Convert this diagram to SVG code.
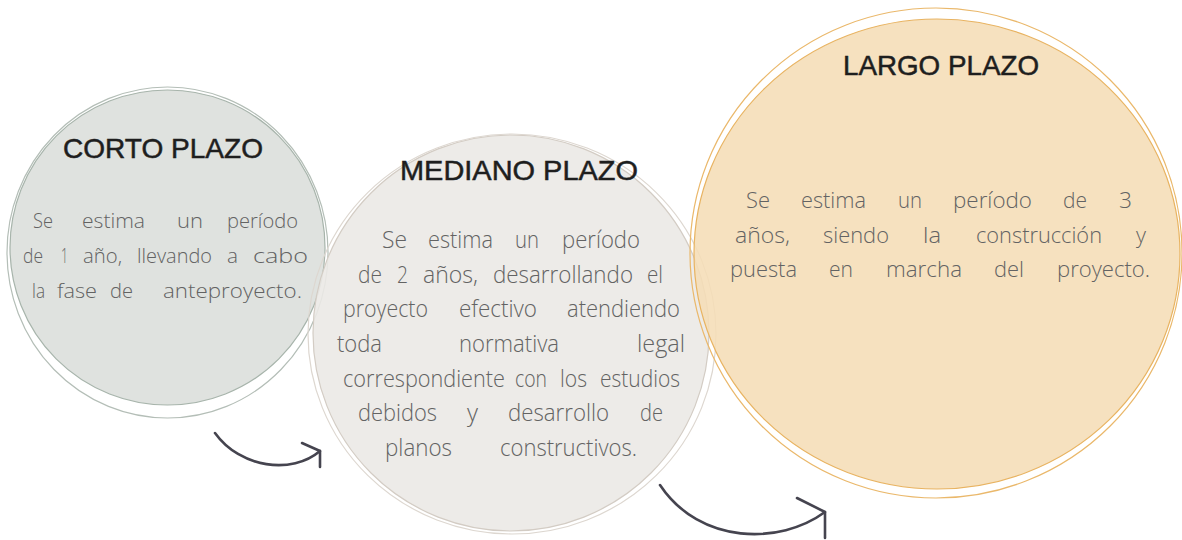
<svg xmlns="http://www.w3.org/2000/svg" width="1182" height="540" viewBox="0 0 1182 540">
<style>
.title{font-family:"Liberation Sans",Arial,sans-serif;font-size:28px;fill:#1e1e1e;stroke:#1e1e1e;stroke-width:0.5}
.body{font-family:"Open Sans","DejaVu Sans",sans-serif;font-weight:300;font-size:22px;fill:#636363}
.s{font-size:21px}
.m{font-size:23px}
.conn{fill:none;stroke:#45444f;stroke-width:2.6;stroke-linecap:round;stroke-linejoin:round}
</style>
<rect width="1182" height="540" fill="#fff"/>
<g id="corto">
<circle cx="167.5" cy="247.5" r="157.5" fill="#dce0dc" fill-opacity="0.92" stroke="#a7b4ab" stroke-width="1.2"/>
<ellipse cx="167.5" cy="252.5" rx="160.5" ry="165.5" fill="none" stroke="#b4beb7" stroke-width="1.2"/>
<text class="title" x="63" y="158" textLength="200" lengthAdjust="spacingAndGlyphs">CORTO PLAZO</text>
<text class="body s" y="228" lengthAdjust="spacingAndGlyphs"><tspan x="33" textLength="20" lengthAdjust="spacingAndGlyphs">Se</tspan><tspan x="82" textLength="63" lengthAdjust="spacingAndGlyphs">estima</tspan><tspan x="177" textLength="26" lengthAdjust="spacingAndGlyphs">un</tspan><tspan x="227" textLength="71" lengthAdjust="spacingAndGlyphs">período</tspan></text>
<text class="body s" y="263"><tspan x="23" textLength="20" lengthAdjust="spacingAndGlyphs">de</tspan><tspan x="61" textLength="7" lengthAdjust="spacingAndGlyphs">1</tspan><tspan x="83" textLength="39" lengthAdjust="spacingAndGlyphs">año,</tspan><tspan x="137" textLength="75" lengthAdjust="spacingAndGlyphs">llevando</tspan><tspan x="227" textLength="11" lengthAdjust="spacingAndGlyphs">a</tspan><tspan x="253" textLength="55" lengthAdjust="spacingAndGlyphs">cabo</tspan></text>
<text class="body s" y="298"><tspan x="32" textLength="13" lengthAdjust="spacingAndGlyphs">la</tspan><tspan x="57" textLength="40" lengthAdjust="spacingAndGlyphs">fase</tspan><tspan x="110" textLength="23" lengthAdjust="spacingAndGlyphs">de</tspan><tspan x="163" textLength="139" lengthAdjust="spacingAndGlyphs">anteproyecto.</tspan></text>
</g>
<g id="mediano">
<circle cx="511" cy="333" r="198" fill="#ebe9e5" fill-opacity="0.9" stroke="#d3ccc4" stroke-width="1.2"/>
<ellipse cx="512" cy="334" rx="204" ry="200" fill="none" stroke="#ddd7d0" stroke-width="1.2"/>
<text class="title" x="400" y="180" textLength="238" lengthAdjust="spacingAndGlyphs">MEDIANO PLAZO</text>
<text class="body m" y="248"><tspan x="382" textLength="25" lengthAdjust="spacingAndGlyphs">Se</tspan><tspan x="428" textLength="65" lengthAdjust="spacingAndGlyphs">estima</tspan><tspan x="515" textLength="24" lengthAdjust="spacingAndGlyphs">un</tspan><tspan x="562" textLength="78" lengthAdjust="spacingAndGlyphs">período</tspan></text>
<text class="body m" y="283"><tspan x="358" textLength="24" lengthAdjust="spacingAndGlyphs">de</tspan><tspan x="397" textLength="11" lengthAdjust="spacingAndGlyphs">2</tspan><tspan x="423" textLength="55" lengthAdjust="spacingAndGlyphs">años,</tspan><tspan x="493" textLength="140" lengthAdjust="spacingAndGlyphs">desarrollando</tspan><tspan x="647" textLength="16" lengthAdjust="spacingAndGlyphs">el</tspan></text>
<text class="body m" y="317"><tspan x="343" textLength="85" lengthAdjust="spacingAndGlyphs">proyecto</tspan><tspan x="459" textLength="78" lengthAdjust="spacingAndGlyphs">efectivo</tspan><tspan x="567" textLength="113" lengthAdjust="spacingAndGlyphs">atendiendo</tspan></text>
<text class="body m" y="352"><tspan x="337" textLength="45" lengthAdjust="spacingAndGlyphs">toda</tspan><tspan x="459" textLength="100" lengthAdjust="spacingAndGlyphs">normativa</tspan><tspan x="637" textLength="48" lengthAdjust="spacingAndGlyphs">legal</tspan></text>
<text class="body m" y="387"><tspan x="343" textLength="162" lengthAdjust="spacingAndGlyphs">correspondiente</tspan><tspan x="515" textLength="32" lengthAdjust="spacingAndGlyphs">con</tspan><tspan x="560" textLength="27" lengthAdjust="spacingAndGlyphs">los</tspan><tspan x="600" textLength="80" lengthAdjust="spacingAndGlyphs">estudios</tspan></text>
<text class="body m" y="421"><tspan x="358" textLength="79" lengthAdjust="spacingAndGlyphs">debidos</tspan><tspan x="467" textLength="11" lengthAdjust="spacingAndGlyphs">y</tspan><tspan x="508" textLength="101" lengthAdjust="spacingAndGlyphs">desarrollo</tspan><tspan x="640" textLength="23" lengthAdjust="spacingAndGlyphs">de</tspan></text>
<text class="body m" y="456"><tspan x="385" textLength="67" lengthAdjust="spacingAndGlyphs">planos</tspan><tspan x="500" textLength="137" lengthAdjust="spacingAndGlyphs">constructivos.</tspan></text>
</g>
<g id="largo">
<ellipse cx="937" cy="254" rx="243" ry="235" fill="#f5ddb6" fill-opacity="0.88" stroke="#e8b361" stroke-width="1.2"/>
<ellipse cx="936" cy="253" rx="246" ry="245" fill="none" stroke="#eab86b" stroke-width="1.2"/>
<text class="title" x="843" y="75" textLength="196" lengthAdjust="spacingAndGlyphs">LARGO PLAZO</text>
<text class="body" y="208"><tspan x="746" textLength="24" lengthAdjust="spacingAndGlyphs">Se</tspan><tspan x="801" textLength="65" lengthAdjust="spacingAndGlyphs">estima</tspan><tspan x="898" textLength="24" lengthAdjust="spacingAndGlyphs">un</tspan><tspan x="953" textLength="79" lengthAdjust="spacingAndGlyphs">período</tspan><tspan x="1063" textLength="24" lengthAdjust="spacingAndGlyphs">de</tspan><tspan x="1119" textLength="13" lengthAdjust="spacingAndGlyphs">3</tspan></text>
<text class="body" y="243"><tspan x="735" textLength="55" lengthAdjust="spacingAndGlyphs">años,</tspan><tspan x="823" textLength="66" lengthAdjust="spacingAndGlyphs">siendo</tspan><tspan x="923" textLength="18" lengthAdjust="spacingAndGlyphs">la</tspan><tspan x="976" textLength="126" lengthAdjust="spacingAndGlyphs">construcción</tspan><tspan x="1136" textLength="10" lengthAdjust="spacingAndGlyphs">y</tspan></text>
<text class="body" y="277"><tspan x="730" textLength="67" lengthAdjust="spacingAndGlyphs">puesta</tspan><tspan x="829" textLength="24" lengthAdjust="spacingAndGlyphs">en</tspan><tspan x="886" textLength="76" lengthAdjust="spacingAndGlyphs">marcha</tspan><tspan x="994" textLength="30" lengthAdjust="spacingAndGlyphs">del</tspan><tspan x="1057" textLength="93" lengthAdjust="spacingAndGlyphs">proyecto.</tspan></text>
</g>
<g id="connectors">
<path class="conn" d="M215 433 C240 468 292 475 320 451"/>
<path class="conn" d="M302 443 L320 451 L320 467"/>
<path class="conn" d="M660 485 C700 545 780 545 825 512"/>
<path class="conn" d="M797 498 L825 512 L825 538"/>
</g>
</svg>
